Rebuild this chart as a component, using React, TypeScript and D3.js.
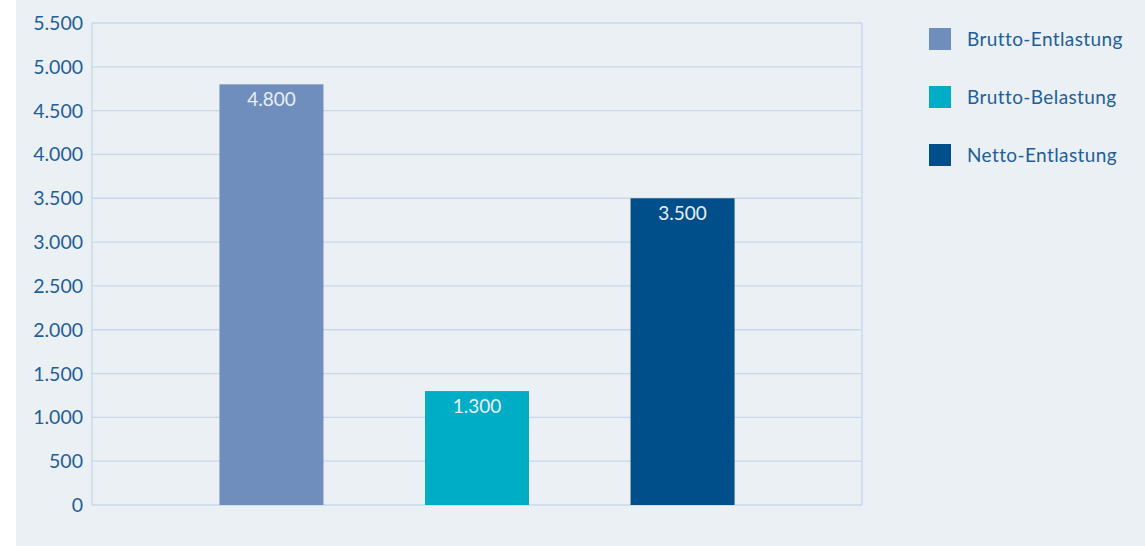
import React from "react";
import * as d3 from "d3";

const categories = ["Brutto-Entlastung", "Brutto-Belastung", "Netto-Entlastung"];
const values = [4800, 1300, 3500];
const colors = ["#6f8ebe", "#00adc6", "#004f8b"];
const yTicks = [0, 500, 1000, 1500, 2000, 2500, 3000, 3500, 4000, 4500, 5000, 5500];

const W = 1145;
const H = 546;
const FONT = "Lato, 'Open Sans', sans-serif";
const TEXT = "#1f5e98";

export default function App() {
  const left = 92, right = 862, top = 23, bottom = 505;
  const y = d3.scaleLinear().domain([0, 5500]).range([bottom, top]);
  const x = d3.scaleBand<string>().domain(categories).range([left, right]).paddingInner(0.494).paddingOuter(0.62);
  const fmt = (v: number) => d3.format(",")(v).replace(/,/g, ".");

  return (
    <div style={{ position: "absolute", left: 0, top: 0 }}>
      <svg width={W} height={H} style={{ display: "block" }}>
        <rect x={16} y={0} width={W - 16} height={H} fill="#ebf0f5" />
        {yTicks.map((t) => (
          <g key={t}>
            <line x1={left} x2={right} y1={y(t)} y2={y(t)} stroke="#c9d8e8" strokeWidth={1.3} />
            <text x={83} y={y(t)} dy="0.36em" textAnchor="end" fontFamily={FONT} fontSize={19.5} fill={TEXT}>
              {fmt(t)}
            </text>
          </g>
        ))}
        <line x1={left} x2={left} y1={top} y2={bottom} stroke="#c9d8e8" strokeWidth={1.5} />
        <line x1={right} x2={right} y1={top} y2={bottom} stroke="#c9d8e8" strokeWidth={1.5} />
        {categories.map((c, i) => (
          <g key={c}>
            <rect x={x(c)} y={y(values[i])} width={x.bandwidth()} height={bottom - y(values[i])} fill={colors[i]} />
            <text
              x={(x(c) as number) + x.bandwidth() / 2}
              y={y(values[i]) + 22}
              textAnchor="middle"
              fontFamily={FONT}
              fontSize={19}
              fill="#e9eff6"
            >
              {fmt(values[i])}
            </text>
          </g>
        ))}
        {categories.map((c, i) => (
          <g key={"lg" + c} transform={`translate(929, ${28 + i * 58})`}>
            <rect x={0} y={0} width={22} height={22} fill={colors[i]} />
            <text x={38} y={11} dy="0.36em" fontFamily={FONT} fontSize={19} fill={TEXT} letterSpacing={0.4}>
              {c}
            </text>
          </g>
        ))}
      </svg>
    </div>
  );
}
